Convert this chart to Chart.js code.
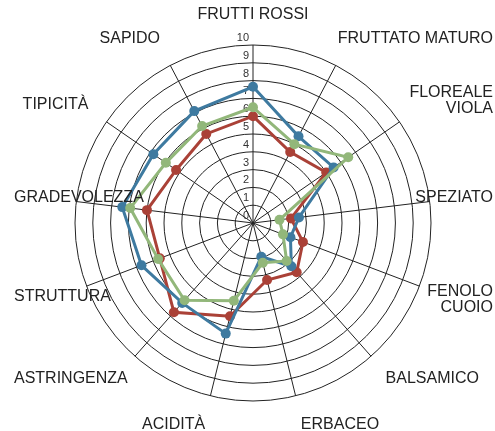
<!DOCTYPE html>
<html>
<head>
<meta charset="utf-8">
<script src="https://cdn.jsdelivr.net/npm/chart.js@4/dist/chart.umd.min.js"></script>
<style>
  html, body { margin: 0; padding: 0; background: #fff; }
  canvas { display: block; }
</style>
</head>
<body>
<canvas id="radar" width="495" height="431"></canvas>
<script>
// axis labels (clockwise from the top)
const categories = [
  'FRUTTI ROSSI', 'FRUTTATO MATURO', ['FLOREALE', 'VIOLA'], 'SPEZIATO',
  ['FENOLO', 'CUOIO'], 'BALSAMICO', 'ERBACEO', 'ACIDITÀ', 'ASTRINGENZA',
  'STRUTTURA', 'GRADEVOLEZZA', 'TIPICITÀ', 'SAPIDO'
]

const tickValues = [0, 1, 2, 3, 4, 5, 6, 7, 8, 9, 10]

const blueValues  = [7.65, 5.5, 5.5, 2.6, 2.25, 3.25, 1.95, 6.4, 6.0, 6.7, 7.4, 6.8, 7.1]
const greenValues = [6.5, 5.0, 6.5, 1.5, 1.8, 2.85, 2.3, 4.5, 5.8, 5.7, 6.95, 5.95, 6.15]
const redValues   = [6.0, 4.5, 5.0, 2.15, 3.0, 3.7, 3.3, 5.4, 6.7, 5.6, 6.0, 5.25, 5.65]

const BLUE = 'rgb(62,122,160)'
const RED = 'rgb(170,65,55)'
const GREEN = 'rgb(146,183,122)'

function serie(label, values, color) {
    return {
        label: label,
        data: values,
        borderColor: color,
        backgroundColor: color,
        pointBackgroundColor: color,
        pointBorderColor: color,
        pointRadius: 5,
        pointBorderWidth: 0,
        borderWidth: 3,
        fill: false
    }
}

// tick numbers and axis labels drawn by hand, so that the circle keeps its size
const labelsPlugin = {
    id: 'labelsPlugin',
    beforeDatasetsDraw(chart) {
        const r = chart.scales.r
        const ctx = chart.ctx
        ctx.save()
        ctx.font = '11px "Liberation Sans", Arial, sans-serif'
        ctx.fillStyle = '#333'
        ctx.textAlign = 'right'
        ctx.textBaseline = 'middle'
        tickValues.forEach(v => {
            const d = r.getDistanceFromCenterForValue(v)
            ctx.fillText(String(v), r.xCenter - 4, r.yCenter - d - 7)
        })
        ctx.restore()
    },
    afterDraw(chart) {
        const r = chart.scales.r
        const ctx = chart.ctx
        const W = chart.width
        const lineH = 16
        ctx.save()
        ctx.font = '16px "Liberation Sans", Arial, sans-serif'
        ctx.fillStyle = '#222'
        ctx.textBaseline = 'middle'
        categories.forEach((cat, i) => {
            const lines = Array.isArray(cat) ? cat : [cat]
            const w = Math.max(...lines.map(l => ctx.measureText(l).width))
            const h = lines.length * lineH
            const angle = r.getIndexAngle(i)
            const s = Math.sin(angle), c = Math.cos(angle)
            const p = r.getPointPosition(i, r.drawingArea + 22)
            let align = Math.abs(s) < 0.01 ? 'center' : (s > 0 ? 'left' : 'right')
            let left = align === 'left' ? p.x : align === 'right' ? p.x - w : p.x - w / 2
            if (left + w > W - 2) { left = W - 2 - w; align = 'right' }
            if (left < 14) { left = 14; align = 'left' }
            const x = align === 'left' ? left : align === 'right' ? left + w : left + w / 2
            const midY = p.y - (h / 2) * c
            ctx.textAlign = align
            lines.forEach((l, k) => {
                ctx.fillText(l, x, midY - h / 2 + lineH / 2 + k * lineH)
            })
        })
        ctx.restore()
    }
}

new Chart(document.getElementById('radar'), {
    type: 'radar',
    data: {
        labels: categories,
        datasets: [
            serie('Verde', greenValues, GREEN),
            serie('Blu', blueValues, BLUE),
            serie('Rosso', redValues, RED)
        ]
    },
    options: {
        responsive: false,
        animation: false,
        layout: {
            padding: { top: 45, bottom: 30, left: 75, right: 64 }
        },
        elements: {
            line: { tension: 0 }
        },
        plugins: {
            legend: { display: false },
            tooltip: { enabled: false }
        },
        scales: {
            r: {
                min: 0,
                max: 10,
                beginAtZero: true,
                ticks: { display: false, stepSize: 1 },
                grid: { circular: true, color: '#222', lineWidth: 1 },
                angleLines: { display: true, color: '#222', lineWidth: 1 },
                pointLabels: { display: false }
            }
        }
    },
    plugins: [labelsPlugin]
})
</script>
</body>
</html>
